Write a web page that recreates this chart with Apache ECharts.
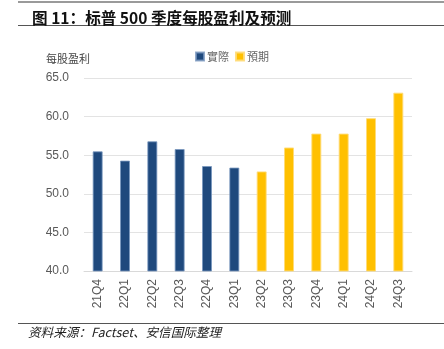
<!DOCTYPE html>
<html>
<head>
<meta charset="utf-8">
<script src="https://cdn.jsdelivr.net/npm/echarts@6/dist/echarts.min.js"></script>
<style>
html,body{margin:0;padding:0;background:#fff;}
#c{width:444px;height:349px;}
</style>
</head>
<body>
<div id="c"></div>
<script>
const categories = ['21Q4','22Q1','22Q2','22Q3','22Q4','23Q1','23Q2','23Q3','23Q4','24Q1','24Q2','24Q3'];
const actual = [55.5, 54.3, 56.8, 55.8, 53.6, 53.4, null, null, null, null, null, null];
const forecast = [null, null, null, null, null, null, 52.9, 56.0, 57.8, 57.8, 59.8, 63.1];
const yTicks = [40, 45, 50, 55, 60, 65];

const chart = echarts.init(document.getElementById('c'), null, {renderer:'canvas'});
const font = '"Liberation Sans", Arial, sans-serif';
const cjk = '"Noto Sans CJK SC", sans-serif';
chart.setOption({
  animation:false,
  backgroundColor:'#fff',
  title:{
    text:'图 11：标普 500 季度每股盈利及预测',
    left:27, top:5,
    textStyle:{fontSize:15.6, fontWeight:'bold', color:'#111', fontFamily:cjk}
  },
  graphic:[
    {type:'line', shape:{x1:18,y1:2,x2:444,y2:2}, style:{stroke:'#9a9a9a', lineWidth:2}},
    {type:'line', shape:{x1:18,y1:25.5,x2:444,y2:25.5}, style:{stroke:'#555', lineWidth:1}},
    {type:'line', shape:{x1:18,y1:323.5,x2:444,y2:323.5}, style:{stroke:'#555', lineWidth:1}},
    {type:'text', left:28, top:326, style:{text:'资料来源：Factset、安信国际整理', font:'italic 12.6px '+cjk, fill:'#222'}}
  ],
  legend:{
    left:190, top:46,
    itemWidth:8, itemHeight:8, itemGap:6,
    icon:'rect',
    textStyle:{fontSize:11, color:'#666', fontFamily:cjk, padding:[0,0,0,-2]},
    data:['實際','預期']
  },
  grid:{left:84, right:32, top:78, bottom:78, containLabel:false},
  xAxis:{
    type:'category', data:categories,
    axisLine:{lineStyle:{color:'#d9d9d9', width:1}},
    axisTick:{show:false},
    axisLabel:{rotate:90, fontSize:12, color:'#595959', fontFamily:font, margin:8}
  },
  yAxis:{
    type:'value', min:yTicks[0], max:yTicks[yTicks.length-1], interval:5,
    name:'每股盈利', nameLocation:'end', nameGap:14,
    nameTextStyle:{fontSize:11, color:'#444', fontFamily:cjk, align:'left', padding:[0,0,0,-38]},
    axisLine:{show:false}, axisTick:{show:false},
    splitLine:{lineStyle:{color:'#e3e3e3', width:1}},
    axisLabel:{fontSize:12, color:'#595959', fontFamily:font, margin:15,
      formatter:function(v){return v.toFixed(1);}}
  },
  series:[
    {name:'實際', type:'bar', data:actual, stack:'a', barWidth:10,
      itemStyle:{color:'#1F497D', borderColor:'rgba(120,150,190,0.8)', borderWidth:1}},
    {name:'預期', type:'bar', data:forecast, stack:'a', barWidth:10,
      itemStyle:{color:'#FFC000', borderColor:'rgba(255,220,120,0.9)', borderWidth:1}}
  ]
});
</script>
</body>
</html>
